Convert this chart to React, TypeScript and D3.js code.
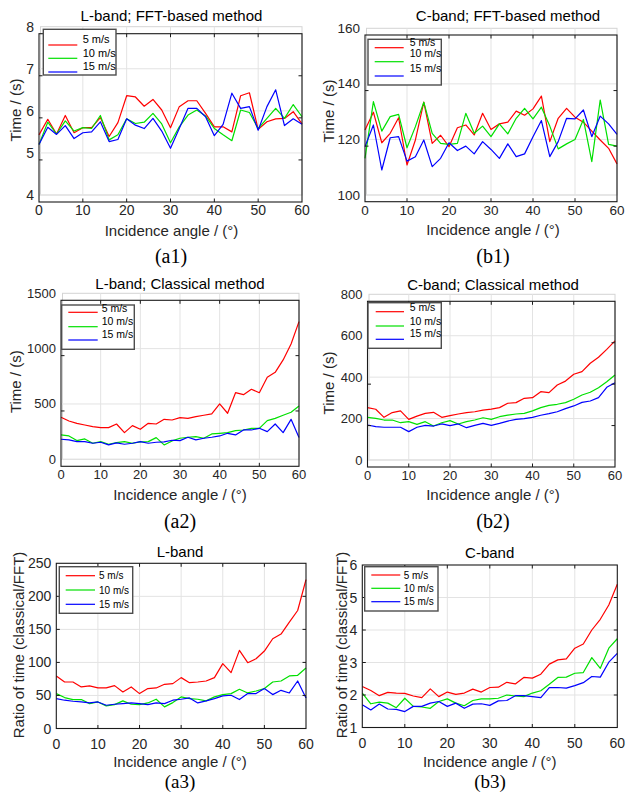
import React from "react";
import * as d3 from "d3";

// Incidence angles (degrees) shared by every series
const angles = [0, 2, 4, 6, 8, 10, 12, 14, 16, 18, 20, 22, 24, 26, 28, 30, 32, 34, 36, 38, 40, 42, 44, 46, 48, 50, 52, 54, 56, 58, 60];
const xTicks = [0, 10, 20, 30, 40, 50, 60];
const windLabels = ["5 m/s", "10 m/s", "15 m/s"];
const seriesColors = ["#ff0000", "#00e000", "#0000ff"];

// L-band, FFT-based method: time (s)
const lFft5 = [5.43, 5.8, 5.45, 5.89, 5.48, 5.6, 5.6, 5.84, 5.39, 5.72, 6.36, 6.33, 6.11, 6.27, 6.02, 5.6, 6.1, 6.24, 6.24, 5.94, 5.62, 5.62, 5.5, 6.36, 6.43, 5.56, 5.74, 5.81, 5.82, 5.98, 5.69];
const lFft10 = [5.2, 5.73, 5.45, 5.76, 5.52, 5.6, 5.58, 5.89, 5.31, 5.43, 5.81, 5.7, 5.73, 5.94, 5.69, 5.24, 5.62, 5.9, 6.02, 5.88, 5.58, 5.43, 5.29, 6.02, 5.96, 5.58, 5.82, 6.06, 5.82, 6.15, 5.86];
const lFft15 = [5.2, 5.61, 5.44, 5.65, 5.34, 5.48, 5.5, 5.74, 5.27, 5.32, 5.81, 5.66, 5.58, 5.82, 5.52, 5.11, 5.58, 6.06, 6.06, 5.86, 5.41, 5.68, 6.42, 6.06, 6.1, 5.54, 6.1, 6.5, 5.65, 5.81, 5.68];

// C-band, FFT-based method: time (s)
const cFft5 = [123.4, 129.8, 118.8, 122.2, 127.8, 110.8, 119.8, 133.4, 118.6, 121.5, 117.4, 124.2, 125.2, 121.6, 129.4, 123.6, 125.6, 126.2, 130.2, 128.7, 131.0, 135.6, 119.2, 127.6, 131.2, 128.0, 126.2, 123.0, 119.8, 116.8, 111.2];
const cFft10 = [113.2, 133.6, 123.0, 128.2, 129.0, 117.0, 124.6, 133.4, 122.2, 118.6, 118.2, 118.6, 129.4, 122.2, 124.8, 121.0, 125.6, 122.0, 127.6, 131.2, 127.4, 131.6, 124.8, 116.6, 118.4, 120.0, 127.2, 112.0, 134.2, 118.2, 117.6];
const cFft15 = [117.4, 125.2, 109.0, 120.6, 121.0, 112.2, 113.8, 119.8, 110.2, 113.2, 118.8, 116.0, 117.6, 114.8, 119.2, 116.4, 113.2, 118.4, 113.8, 114.8, 121.0, 126.8, 113.8, 119.2, 127.6, 127.4, 130.6, 121.0, 128.4, 125.6, 121.8];

// L-band, classical method: time (s)
const lCls5 = [380, 346, 325, 310, 295, 286, 286, 319, 241, 304, 271, 325, 319, 361, 355, 377, 370, 386, 398, 410, 500, 416, 602, 584, 633, 602, 741, 786, 898, 1042, 1244];
const lCls10 = [220, 211, 169, 184, 145, 160, 136, 151, 160, 145, 157, 160, 196, 130, 166, 190, 199, 205, 190, 229, 235, 241, 259, 265, 280, 280, 349, 370, 398, 425, 482];
const lCls15 = [181, 175, 160, 160, 145, 154, 130, 148, 136, 145, 160, 145, 154, 157, 172, 169, 199, 175, 190, 199, 211, 235, 220, 265, 265, 280, 250, 319, 241, 361, 196];

// C-band, classical method: time (s)
const cCls5 = [253, 245, 206, 229, 237, 196, 212, 225, 230, 206, 214, 222, 229, 233, 241, 246, 253, 274, 277, 298, 301, 330, 325, 362, 381, 414, 427, 467, 496, 534, 575];
const cCls10 = [206, 201, 193, 193, 180, 185, 172, 185, 164, 180, 190, 174, 185, 193, 204, 196, 209, 217, 222, 225, 237, 253, 264, 269, 277, 293, 314, 327, 349, 378, 410];
const cCls15 = [169, 161, 158, 158, 158, 137, 158, 167, 164, 174, 166, 174, 156, 167, 177, 167, 177, 188, 196, 200, 206, 216, 224, 233, 248, 261, 278, 285, 301, 351, 373];

// L-band ratio of time (classical/FFT)
const lRatio5 = [79.5, 70.4, 70.4, 62.9, 64.4, 61.4, 61.4, 64.9, 55.3, 62.9, 52.8, 60.4, 61.4, 66.9, 67.9, 77.0, 69.4, 70.4, 71.9, 77.0, 98.1, 84.5, 118.2, 99.6, 105.6, 117.2, 135.8, 142.9, 161.0, 178.6, 225.4];
const lRatio10 = [52.8, 46.8, 43.8, 43.8, 37.7, 40.2, 34.2, 36.2, 41.8, 36.7, 36.2, 38.7, 44.3, 32.7, 39.2, 47.8, 45.3, 44.3, 41.8, 47.8, 51.3, 52.8, 59.4, 53.8, 56.8, 60.4, 70.4, 71.9, 79.5, 80.5, 91.5];
const lRatio15 = [45.3, 42.8, 41.2, 40.2, 38.7, 40.2, 35.2, 36.7, 37.7, 38.7, 37.7, 36.2, 38.7, 37.7, 42.8, 44.3, 46.3, 38.7, 41.8, 45.3, 49.3, 50.3, 43.8, 52.8, 52.8, 60.4, 51.3, 57.8, 53.8, 71.9, 46.3];

// C-band ratio of time (classical/FFT)
const cRatio5 = [2.26, 2.14, 1.98, 2.08, 2.06, 2.05, 1.97, 1.92, 2.19, 1.95, 2.09, 2.02, 2.06, 2.18, 2.09, 2.23, 2.24, 2.39, 2.34, 2.54, 2.52, 2.64, 2.95, 3.08, 3.11, 3.44, 3.57, 4.0, 4.33, 4.77, 5.41];
const cRatio10 = [2.06, 1.73, 1.78, 1.75, 1.61, 1.9, 1.65, 1.63, 1.59, 1.8, 1.88, 1.75, 1.67, 1.83, 1.88, 1.88, 1.9, 2.0, 1.97, 1.95, 2.06, 2.13, 2.33, 2.54, 2.55, 2.67, 2.69, 3.15, 2.82, 3.44, 3.73];
const cRatio15 = [1.7, 1.54, 1.72, 1.57, 1.56, 1.49, 1.65, 1.65, 1.75, 1.8, 1.65, 1.75, 1.59, 1.72, 1.73, 1.68, 1.82, 1.83, 1.98, 1.98, 1.95, 1.92, 2.23, 2.23, 2.21, 2.29, 2.38, 2.57, 2.55, 3.01, 3.28];

// Y tick values per panel
const ticksLFft = [4, 5, 6, 7, 8];
const ticksCFft = [100, 120, 140, 160];
const ticksLCls = [0, 500, 1000, 1500];
const ticksCCls = [0, 200, 400, 600, 800];
const ticksLRatio = [0, 50, 100, 150, 200, 250];
const ticksCRatio = [1, 2, 3, 4, 5, 6];

const SANS = "'Liberation Sans', Arial, Helvetica, sans-serif";
const SERIF = "'Liberation Serif', 'Times New Roman', serif";

type Legend = {
  box: [number, number, number, number];
  lineX: [number, number];
  lineY: number[];
  textX: number;
  textY: number[];
  fontSize: number;
};

type PanelSpec = {
  series: number[][];
  yDomain: [number, number];
  yTicks: number[];
  xRange: [number, number];
  yRange: [number, number]; // [bottom, top] pixel positions of the grid box
  frameShift: number; // vertical offset of the black axes box
  gridBox: boolean;
  tickFont: number;
  title: string;
  titlePos: [number, number];
  xLabelPos: [number, number];
  yLabel: string;
  yLabelPos: [number, number];
  tag: string;
  tagPos: [number, number];
  tagSize: number;
  legend: Legend;
};

const panels: PanelSpec[] = [
  {
    series: [lFft5, lFft10, lFft15],
    yDomain: [4, 8],
    yTicks: ticksLFft,
    xRange: [39, 302],
    yRange: [195, 26.7],
    frameShift: 7,
    gridBox: true,
    tickFont: 14,
    title: "L-band; FFT-based method",
    titlePos: [171.5, 15],
    xLabelPos: [171.5, 230],
    yLabel: "Time / (s)",
    yLabelPos: [15, 110],
    tag: "(a1)",
    tagPos: [171, 256],
    tagSize: 20,
    legend: { box: [43.3, 29.3, 72.7, 45.7], lineX: [48.3, 77.3], lineY: [45, 58.3, 72], textX: 82.7, textY: [39, 52.7, 66], fontSize: 11 },
  },
  {
    series: [cFft5, cFft10, cFft15],
    yDomain: [100, 160],
    yTicks: ticksCFft,
    xRange: [365, 617],
    yRange: [195, 28.3],
    frameShift: 6.7,
    gridBox: true,
    tickFont: 13.5,
    title: "C-band; FFT-based method",
    titlePos: [508, 15],
    xLabelPos: [493, 229.3],
    yLabel: "Time / (s)",
    yLabelPos: [328, 111],
    tag: "(b1)",
    tagPos: [493, 256],
    tagSize: 20,
    legend: { box: [368, 39.3, 73.3, 45.7], lineX: [374.7, 403.7], lineY: [47.7, 61.7, 76], textX: 409.7, textY: [41.7, 53.3, 67.7], fontSize: 10.5 },
  },
  {
    series: [lCls5, lCls10, lCls15],
    yDomain: [0, 1500],
    yTicks: ticksLCls,
    xRange: [61, 299],
    yRange: [459.3, 293.3],
    frameShift: 7,
    gridBox: true,
    tickFont: 13,
    title: "L-band; Classical method",
    titlePos: [180, 283.3],
    xLabelPos: [180, 494.3],
    yLabel: "Time / (s)",
    yLabelPos: [15, 381.7],
    tag: "(a2)",
    tagPos: [180, 521],
    tagSize: 20,
    legend: { box: [61.7, 305, 72.6, 44.3], lineX: [68.3, 97.7], lineY: [312.3, 326.7, 340], textX: 101.7, textY: [308.3, 321, 334], fontSize: 10.5 },
  },
  {
    series: [cCls5, cCls10, cCls15],
    yDomain: [0, 800],
    yTicks: ticksCCls,
    xRange: [367.5, 615],
    yRange: [460, 294.3],
    frameShift: 7,
    gridBox: true,
    tickFont: 13,
    title: "C-band; Classical method",
    titlePos: [493, 284],
    xLabelPos: [493, 494.3],
    yLabel: "Time / (s)",
    yLabelPos: [328, 383],
    tag: "(b2)",
    tagPos: [493, 521],
    tagSize: 20,
    legend: { box: [368, 302.7, 73.3, 45.6], lineX: [375.7, 404], lineY: [311.7, 326, 339.3], textX: 409.7, textY: [306.7, 321, 333.3], fontSize: 10.5 },
  },
  {
    series: [lRatio5, lRatio10, lRatio15],
    yDomain: [0, 250],
    yTicks: ticksLRatio,
    xRange: [56.3, 306],
    yRange: [728.5, 563.3],
    frameShift: 0,
    gridBox: false,
    tickFont: 14,
    title: "L-band",
    titlePos: [180, 551.7],
    xLabelPos: [180, 761],
    yLabel: "Ratio of time (classical/FFT)",
    yLabelPos: [18.3, 645],
    tag: "(a3)",
    tagPos: [180, 781.5],
    tagSize: 19,
    legend: { box: [59.3, 566.7, 73.4, 46.6], lineX: [65.7, 95], lineY: [575.7, 590, 604.3], textX: 99, textY: [575.7, 590, 604.3], fontSize: 10 },
  },
  {
    series: [cRatio5, cRatio10, cRatio15],
    yDomain: [1, 6],
    yTicks: ticksCRatio,
    xRange: [362.3, 617.3],
    yRange: [727.5, 565],
    frameShift: 0,
    gridBox: false,
    tickFont: 14,
    title: "C-band",
    titlePos: [489.7, 552.3],
    xLabelPos: [489.7, 761],
    yLabel: "Ratio of time (classical/FFT)",
    yLabelPos: [341.3, 645],
    tag: "(b3)",
    tagPos: [490, 781.5],
    tagSize: 19,
    legend: { box: [364.7, 566.7, 73.3, 44.3], lineX: [371.3, 400.3], lineY: [575, 588.3, 601.7], textX: 403.7, textY: [575, 588.3, 601.7], fontSize: 10 },
  },
];

function Panel({ spec }: { spec: PanelSpec }) {
  const x = d3.scaleLinear().domain([0, 60]).range(spec.xRange);
  const y = d3.scaleLinear().domain(spec.yDomain).range(spec.yRange);
  const [xl, xr] = spec.xRange;
  const [yb, yt] = spec.yRange;
  const s = spec.frameShift;
  const frameTop = yt + s;
  const frameBottom = yb + s;
  const line = d3
    .line<number>()
    .x((_, i) => x(angles[i]))
    .y((d) => y(d));
  const gridColor = "#e3e3e3";
  const tickLen = 3.5;

  return (
    <g>
      {/* light grid layer */}
      {spec.gridBox && (
        <rect x={xl + 1.5} y={yt} width={xr - xl - 1.5} height={yb - yt} fill="none" stroke="#d4d4d4" strokeWidth={1} />
      )}
      {xTicks.slice(1, -1).map((t) => (
        <line key={"gx" + t} x1={x(t)} x2={x(t)} y1={spec.gridBox ? yt : frameTop} y2={spec.gridBox ? yb : frameBottom} stroke={gridColor} strokeWidth={1} />
      ))}
      {spec.yTicks.slice(spec.gridBox ? 0 : 1, -1).map((t) => (
        <line key={"gy" + t} x1={xl} x2={xr} y1={y(t)} y2={y(t)} stroke={gridColor} strokeWidth={1} />
      ))}

      {/* data */}
      {spec.series.map((vals, i) => (
        <path key={"s" + i} d={line(vals) || ""} fill="none" stroke={seriesColors[i]} strokeWidth={1.2} strokeLinejoin="round" />
      ))}

      {/* black axes box with inward ticks */}
      <rect x={xl} y={frameTop} width={xr - xl} height={frameBottom - frameTop} fill="none" stroke="#1a1a1a" strokeWidth={1.1} />
      {xTicks.slice(1, -1).map((t) => (
        <g key={"tx" + t}>
          <line x1={x(t)} x2={x(t)} y1={frameBottom} y2={frameBottom - tickLen} stroke="#1a1a1a" />
          <line x1={x(t)} x2={x(t)} y1={frameTop} y2={frameTop + tickLen} stroke="#1a1a1a" />
        </g>
      ))}
      {spec.yTicks
        .filter((t) => y(t) + s > frameTop + 1 && y(t) + s < frameBottom - 1)
        .map((t) => (
          <g key={"ty" + t}>
            <line x1={xl} x2={xl + tickLen} y1={y(t) + s} y2={y(t) + s} stroke="#1a1a1a" />
            <line x1={xr} x2={xr - tickLen} y1={y(t) + s} y2={y(t) + s} stroke="#1a1a1a" />
          </g>
        ))}

      {/* tick labels */}
      {xTicks.map((t) => (
        <text key={"lx" + t} x={x(t)} y={yb + 15} textAnchor="middle" dominantBaseline="central" fontFamily={SANS} fontSize={spec.tickFont} fill="#262626">
          {t}
        </text>
      ))}
      {spec.yTicks.map((t) => (
        <text key={"ly" + t} x={xl - 5} y={y(t)} textAnchor="end" dominantBaseline="central" fontFamily={SANS} fontSize={spec.tickFont} fill="#262626">
          {t}
        </text>
      ))}

      {/* legend */}
      <rect
        x={spec.legend.box[0]}
        y={spec.legend.box[1]}
        width={spec.legend.box[2]}
        height={spec.legend.box[3]}
        fill="#ffffff"
        stroke="#4d4d4d"
        strokeWidth={1.4}
      />
      {windLabels.map((lab, i) => (
        <g key={"lg" + i}>
          <line
            x1={spec.legend.lineX[0]}
            x2={spec.legend.lineX[1]}
            y1={spec.legend.lineY[i]}
            y2={spec.legend.lineY[i]}
            stroke={seriesColors[i]}
            strokeWidth={1.2}
          />
          <text x={spec.legend.textX} y={spec.legend.textY[i]} dominantBaseline="central" fontFamily={SANS} fontSize={spec.legend.fontSize} fill="#000">
            {lab}
          </text>
        </g>
      ))}

      {/* titles and labels */}
      <text x={spec.titlePos[0]} y={spec.titlePos[1]} textAnchor="middle" dominantBaseline="central" fontFamily={SANS} fontSize={15} fill="#000">
        {spec.title}
      </text>
      <text x={spec.xLabelPos[0]} y={spec.xLabelPos[1]} textAnchor="middle" dominantBaseline="central" fontFamily={SANS} fontSize={15} fill="#262626">
        Incidence angle / (°)
      </text>
      <text
        transform={`translate(${spec.yLabelPos[0]},${spec.yLabelPos[1]}) rotate(-90)`}
        textAnchor="middle"
        dominantBaseline="central"
        fontFamily={SANS}
        fontSize={15}
        fill="#262626"
      >
        {spec.yLabel}
      </text>
      <text x={spec.tagPos[0]} y={spec.tagPos[1]} textAnchor="middle" dominantBaseline="central" fontFamily={SERIF} fontSize={spec.tagSize} fill="#000">
        {spec.tag}
      </text>
    </g>
  );
}

export default function App() {
  return (
    <svg
      width={626}
      height={795}
      viewBox="0 0 626 795"
      style={{ position: "absolute", left: 0, top: 0, background: "#fff" }}
    >
      <rect x={0} y={0} width={626} height={795} fill="#ffffff" />
      {panels.map((p, i) => (
        <Panel key={i} spec={p} />
      ))}
    </svg>
  );
}
